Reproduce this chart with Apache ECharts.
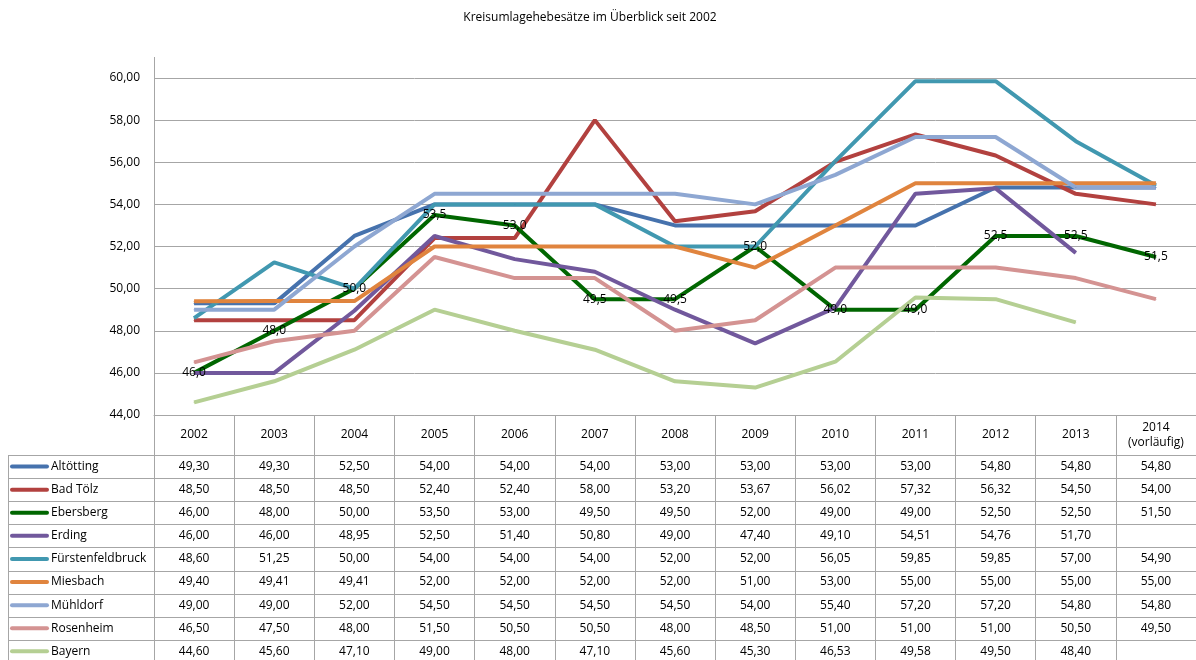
<!DOCTYPE html>
<html>
<head>
<meta charset="utf-8">
<script src="https://cdn.jsdelivr.net/npm/echarts@6/dist/echarts.min.js"></script>
<style>
  html, body { margin: 0; padding: 0; background: #fff; }
  #main { width: 1196px; height: 660px; }
</style>
</head>
<body>
<div id="main"></div>
<script>
// Jahre (Kopfzeile der Tabelle)
const years = ['2002', '2003', '2004', '2005', '2006', '2007', '2008', '2009', '2010', '2011', '2012', '2013', '2014\n(vorläufig)']

// Werte je Landkreis
const altoetting = [49.30, 49.30, 52.50, 54.00, 54.00, 54.00, 53.00, 53.00, 53.00, 53.00, 54.80, 54.80, 54.80]
const badToelz = [48.50, 48.50, 48.50, 52.40, 52.40, 58.00, 53.20, 53.67, 56.02, 57.32, 56.32, 54.50, 54.00]
const ebersberg = [46.00, 48.00, 50.00, 53.50, 53.00, 49.50, 49.50, 52.00, 49.00, 49.00, 52.50, 52.50, 51.50]
const erding = [46.00, 46.00, 48.95, 52.50, 51.40, 50.80, 49.00, 47.40, 49.10, 54.51, 54.76, 51.70, null]
const fuerstenfeldbruck = [48.60, 51.25, 50.00, 54.00, 54.00, 54.00, 52.00, 52.00, 56.05, 59.85, 59.85, 57.00, 54.90]
const miesbach = [49.40, 49.41, 49.41, 52.00, 52.00, 52.00, 52.00, 51.00, 53.00, 55.00, 55.00, 55.00, 55.00]
const muehldorf = [49.00, 49.00, 52.00, 54.50, 54.50, 54.50, 54.50, 54.00, 55.40, 57.20, 57.20, 54.80, 54.80]
const rosenheim = [46.50, 47.50, 48.00, 51.50, 50.50, 50.50, 48.00, 48.50, 51.00, 51.00, 51.00, 50.50, 49.50]
const bayern = [44.60, 45.60, 47.10, 49.00, 48.00, 47.10, 45.60, 45.30, 46.53, 49.58, 49.50, 48.40, null]

const seriesNames = ['Altötting', 'Bad Tölz', 'Ebersberg', 'Erding', 'Fürstenfeldbruck', 'Miesbach', 'Mühldorf', 'Rosenheim', 'Bayern']
const seriesData = [altoetting, badToelz, ebersberg, erding, fuerstenfeldbruck, miesbach, muehldorf, rosenheim, bayern]
const colors = ['#4672ad', '#b2413f', '#006600', '#71589c', '#4198b0', '#e0843e', '#8ea7d2', '#d49392', '#b5cf93']

const FONT = '"Open Sans", "Liberation Sans", sans-serif'
const comma = (v, d) => v.toFixed(d).replace('.', ',')

const chart = echarts.init(document.getElementById('main'))

const options = {
  animation: false,
  title: {
    text: 'Kreisumlagehebesätze im Überblick seit 2002',
    left: 585,
    textAlign: 'center',
    top: 7,
    textStyle: { fontFamily: FONT, fontSize: 12, fontWeight: 'normal', color: '#000' }
  },
  grid: { left: 154, right: -2, top: 78, bottom: 245 },
  xAxis: {
    type: 'category',
    data: years,
    boundaryGap: true,
    axisLine: { lineStyle: { color: '#a6a6a6' } },
    // Ticks laufen als senkrechte Tabellenlinien nach unten
    axisTick: { show: true, interval: 0, length: 245, lineStyle: { color: '#a6a6a6' } },
    axisLabel: { show: false }
  },
  yAxis: {
    type: 'value',
    min: 44,
    max: 60,
    interval: 2,
    axisLine: { show: true, lineStyle: { color: '#a6a6a6' } },
    axisTick: { show: false },
    splitLine: { lineStyle: { color: '#a6a6a6' } },
    axisLabel: {
      margin: 14,
      fontFamily: FONT,
      fontSize: 12,
      color: '#000',
      formatter: (v) => comma(v, 2)
    }
  },
  series: seriesNames.map((name, i) => ({
    name: name,
    type: 'line',
    data: seriesData[i],
    color: colors[i],
    symbol: 'circle',
    symbolSize: 1,
    lineStyle: { width: 4, color: colors[i] },
    itemStyle: { color: colors[i] },
    label: name === 'Ebersberg' ? {
      show: true,
      position: 'inside',
      color: '#000',
      textBorderWidth: 0,
      fontFamily: FONT,
      fontSize: 12,
      formatter: (p) => comma(p.value, 1)
    } : { show: false }
  }))
}
chart.setOption(options)

// Datentabelle unter dem Diagramm
const headerMid = 435
const rowTop = 455
const rowH = 23.1
const tableLeft = 8
const tableRight = 1196
const g = []
const txt = { fontFamily: FONT, fontSize: 12, fill: '#000' }

years.forEach((y, c) => {
  const x = chart.convertToPixel({ xAxisIndex: 0 }, c)
  g.push({ type: 'text', x: x, y: headerMid, style: Object.assign({ text: y, align: 'center', verticalAlign: 'middle', lineHeight: 15 }, txt) })
})

for (let r = 0; r <= seriesNames.length; r++) {
  const y = Math.round(rowTop + r * rowH) + 0.5
  g.push({ type: 'line', shape: { x1: tableLeft, y1: y, x2: tableRight, y2: y }, style: { stroke: '#a6a6a6', lineWidth: 1 } })
}
g.push({ type: 'line', shape: { x1: tableLeft + 0.5, y1: rowTop, x2: tableLeft + 0.5, y2: 660 }, style: { stroke: '#a6a6a6', lineWidth: 1 } })
// kurzes Stück Achse über 60,00
g.push({ type: 'line', shape: { x1: 154.5, y1: 57, x2: 154.5, y2: 78 }, style: { stroke: '#a6a6a6', lineWidth: 1 } })

seriesNames.forEach((name, r) => {
  const cy = rowTop + r * rowH + rowH / 2
  g.push({ type: 'line', shape: { x1: 12, y1: cy, x2: 47, y2: cy }, style: { stroke: colors[r], lineWidth: 4, lineCap: 'round' } })
  g.push({ type: 'text', x: 51, y: cy, style: Object.assign({ text: name, align: 'left', verticalAlign: 'middle' }, txt) })
  seriesData[r].forEach((v, c) => {
    if (v === null) return
    const x = chart.convertToPixel({ xAxisIndex: 0 }, c)
    g.push({ type: 'text', x: x, y: cy, style: Object.assign({ text: comma(v, 2), align: 'center', verticalAlign: 'middle' }, txt) })
  })
})

chart.setOption({ graphic: g })
</script>
</body>
</html>
